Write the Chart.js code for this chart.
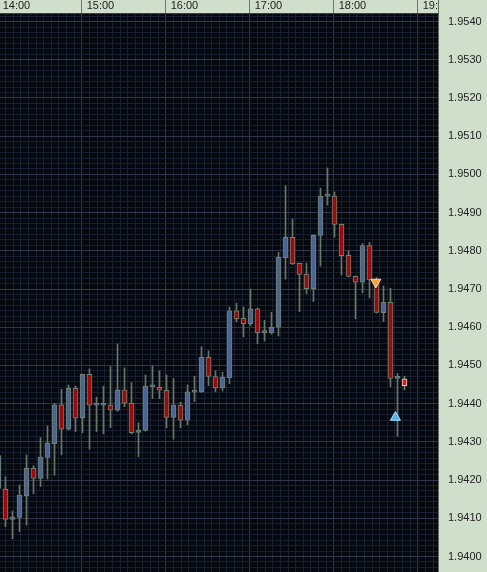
<!DOCTYPE html>
<html><head><meta charset="utf-8">
<script src="https://cdn.jsdelivr.net/npm/chart.js@4.4.0/dist/chart.umd.min.js"></script>
<style>
html,body{margin:0;padding:0;background:#cfdfcb;overflow:hidden;}
canvas{display:block;}
</style></head>
<body><canvas id="c" width="487" height="572"></canvas>
<script>
// 5-minute candles (first one partly hidden at the left edge)
const times = ['13:55','14:00','14:05','14:10','14:15','14:20','14:25','14:30','14:35','14:40','14:45','14:50','14:55',
'15:00','15:05','15:10','15:15','15:20','15:25','15:30','15:35','15:40','15:45','15:50','15:55',
'16:00','16:05','16:10','16:15','16:20','16:25','16:30','16:35','16:40','16:45','16:50','16:55',
'17:00','17:05','17:10','17:15','17:20','17:25','17:30','17:35','17:40','17:45','17:50','17:55',
'18:00','18:05','18:10','18:15','18:20','18:25','18:30','18:35','18:40','18:45'];
const opens = [1.94178,1.94176,1.94097,1.94102,1.94159,1.94231,1.94204,1.94259,1.94295,1.94397,1.94333,1.94440,1.94362,
1.94477,1.94396,1.94396,1.94396,1.94383,1.94436,1.94401,1.94325,1.94330,1.94444,1.94443,1.94435,
1.94364,1.94396,1.94357,1.94430,1.94431,1.94521,1.94471,1.94441,1.94468,1.94643,1.94623,1.94609,
1.94648,1.94586,1.94586,1.94600,1.94782,1.94835,1.94767,1.94739,1.94701,1.94840,1.94943,1.94943,
1.94869,1.94788,1.94733,1.94718,1.94814,1.94724,1.94638,1.94665,1.94466,1.94465];
const highs = [1.94266,1.94209,1.94119,1.94187,1.94266,1.94238,1.94311,1.94342,1.94401,1.94438,1.94449,1.94446,1.94477,
1.94491,1.94417,1.94446,1.94497,1.94556,1.94494,1.94455,1.94350,1.94475,1.94499,1.94486,1.94475,
1.94466,1.94404,1.94449,1.94472,1.94549,1.94538,1.94486,1.94482,1.94653,1.94663,1.94653,1.94700,
1.94650,1.94618,1.94639,1.94796,1.94970,1.94883,1.94768,1.94768,1.94842,1.94964,1.95017,1.94954,
1.94870,1.94800,1.94734,1.94819,1.94822,1.94731,1.94708,1.94702,1.94479,1.94472];
const lows = [1.94177,1.94078,1.94046,1.94065,1.94082,1.94164,1.94183,1.94203,1.94213,1.94266,1.94331,1.94327,1.94324,
1.94281,1.94327,1.94321,1.94337,1.94380,1.94392,1.94321,1.94261,1.94328,1.94413,1.94413,1.94337,
1.94307,1.94337,1.94345,1.94405,1.94429,1.94447,1.94431,1.94433,1.94452,1.94614,1.94575,1.94604,
1.94557,1.94564,1.94582,1.94577,1.94726,1.94764,1.94641,1.94688,1.94667,1.94760,1.94920,1.94836,
1.94737,1.94732,1.94622,1.94690,1.94677,1.94637,1.94615,1.94444,1.94315,1.94436];
const closes = [1.94264,1.94097,1.94103,1.94161,1.94231,1.94204,1.94260,1.94297,1.94397,1.94333,1.94440,1.94362,1.94477,
1.94396,1.94397,1.94397,1.94383,1.94436,1.94401,1.94324,1.94331,1.94446,1.94445,1.94435,1.94364,
1.94396,1.94357,1.94431,1.94431,1.94521,1.94471,1.94441,1.94469,1.94643,1.94622,1.94609,1.94648,
1.94586,1.94587,1.94600,1.94783,1.94835,1.94766,1.94738,1.94701,1.94841,1.94943,1.94944,1.94869,
1.94787,1.94733,1.94718,1.94814,1.94724,1.94639,1.94665,1.94466,1.94467,1.94447];
// signal arrows (candle position, price)
const sellSignalX = [53.9], sellSignalY = [1.94718];
const buySignalX = [56.7], buySignalY = [1.94364];
// axis labels
const hourLabels = ['14:00','15:00','16:00','17:00','18:00','19:00'];
const priceLabels = ['1.9400','1.9410','1.9420','1.9430','1.9440','1.9450','1.9460','1.9470','1.9480','1.9490','1.9500','1.9510','1.9520','1.9530','1.9540'];

const PLOT_BG = '#06080f';
const GRID_MINOR = '#18202f';
const GRID_MAJOR = '#35354c';
const UP_FILL = '#4a6494', DOWN_FILL = '#9c0a0c';
const BODY_EDGE = '#728272', WICK = '#687868';
const LAST_FILL = '#e8161c', LAST_EDGE = '#d4d8d4';

const n = times.length;
const last = n - 1;
const bodyData = times.map((t, i) => ({x: i, y: [opens[i], closes[i]]}));
const wickData = times.map((t, i) => ({x: i, y: [lows[i], highs[i]]}));
const bodyFill = times.map((t, i) => i === last ? LAST_FILL : (closes[i] >= opens[i] ? UP_FILL : DOWN_FILL));
const bodyEdge = times.map((t, i) => i === last ? LAST_EDGE : BODY_EDGE);

// hour boundaries sit between candles (index of 14:00 candle is 1)
const hourPos = hourLabels.map((h, k) => times.indexOf(h) >= 0 ? times.indexOf(h) - 0.55 : 1 + 12 * k - 0.55);
const xMin = 0.2143, xMax = xMin + 438 / 7;
const yMin = 1.939594, yMax = 1.954224;
const yMajorVals = priceLabels.map(Number);
const xMinorStep = 12 / 11;
const yMinorStep = 0.001 / 7;

function noPad(s) { s.paddingLeft = 0; s.paddingRight = 0; s.paddingTop = 0; s.paddingBottom = 0; }

const bgPlugin = {
  id: 'bg',
  beforeDraw(chart) {
    const {ctx, chartArea: a} = chart;
    ctx.save();
    ctx.fillStyle = PLOT_BG;
    ctx.fillRect(a.left, a.top, a.right - a.left, a.bottom - a.top);
    ctx.restore();
  },
  afterDraw(chart) {
    const {ctx, chartArea: a} = chart;
    ctx.save();
    ctx.fillStyle = '#cfdfcb';
    ctx.fillRect(a.right, 0, chart.width - a.right, a.top);
    ctx.fillStyle = '#5e6a5e';
    ctx.fillRect(a.right, 0, 1, a.top);
    ctx.restore();
  }
};

new Chart(document.getElementById('c'), {
  type: 'bar',
  data: {
    datasets: [
      {type: 'scatter', data: sellSignalX.map((x, i) => ({x, y: sellSignalY[i]})), pointStyle: 'triangle', rotation: 180,
       radius: 5.8, backgroundColor: '#f6a43c', borderColor: '#fcd9a4', borderWidth: 1, order: -1},
      {type: 'scatter', data: buySignalX.map((x, i) => ({x, y: buySignalY[i]})), pointStyle: 'triangle', rotation: 0,
       radius: 5.8, backgroundColor: '#56b4ea', borderColor: '#a6dcf6', borderWidth: 1, order: -1},
      {data: bodyData, backgroundColor: bodyFill, borderColor: bodyEdge, borderWidth: 1, borderSkipped: false,
       barThickness: 5, minBarLength: 2, grouped: false, order: 0},
      {data: wickData, backgroundColor: WICK, borderWidth: 0, barThickness: 1, grouped: false, order: 1}
    ]
  },
  options: {
    responsive: false,
    animation: false,
    devicePixelRatio: 1,
    layout: {padding: 0, autoPadding: false},
    plugins: {legend: {display: false}, tooltip: {enabled: false}},
    scales: {
      x: {
        type: 'linear', position: 'top', min: xMin, max: xMax, offset: false,
        afterBuildTicks(s) {
          const t = [];
          hourPos.forEach((p, k) => {
            t.push({value: p, major: true, label: hourLabels[k]});
            if (k < hourPos.length - 1) for (let j = 1; j < 11; j++) t.push({value: p + j * xMinorStep, major: false});
          });
          for (let j = 1; j < 3; j++) t.push({value: hourPos[hourPos.length - 1] + j * xMinorStep, major: false});
          s.ticks = t.filter(o => o.value >= xMin && o.value <= xMax).sort((a, b) => a.value - b.value);
        },
        afterFit(s) { s.height = 13; noPad(s); },
        grid: {
          color: c => (c.tick && c.tick.major) ? GRID_MAJOR : GRID_MINOR,
          tickColor: c => (c.tick && c.tick.major) ? '#6c786c' : 'rgba(0,0,0,0)',
          tickLength: 13, lineWidth: 1
        },
        border: {display: true, color: '#3c463c'},
        ticks: {
          autoSkip: false, maxRotation: 0, minRotation: 0, align: 'start', labelOffset: 1, padding: -13,
          color: '#222', font: {family: 'Liberation Sans', size: 11},
          callback: function(v, i, ticks) { return ticks[i].major ? ticks[i].label : ''; }
        }
      },
      y: {
        type: 'linear', position: 'right', min: yMin, max: yMax,
        afterBuildTicks(s) {
          const t = [];
          for (let k = 0; k < yMajorVals.length; k++) {
            t.push({value: yMajorVals[k], major: true, label: priceLabels[k]});
            for (let j = 1; j < 7; j++) t.push({value: yMajorVals[k] + j * yMinorStep, major: false});
          }
          for (let j = 1; j < 4; j++) t.push({value: yMajorVals[0] - j * yMinorStep, major: false});
          s.ticks = t.filter(o => o.value >= yMin && o.value <= yMax).sort((a, b) => a.value - b.value);
        },
        afterFit(s) { s.width = 49; noPad(s); },
        grid: {
          color: c => (c.tick && c.tick.major) ? GRID_MAJOR : GRID_MINOR,
          drawTicks: false, lineWidth: 1
        },
        border: {display: true, color: '#5e6a5e'},
        ticks: {
          autoSkip: false, padding: 10, color: '#222', font: {family: 'Liberation Sans', size: 11},
          callback: function(v, i, ticks) { return ticks[i].major ? ticks[i].label : ''; }
        }
      }
    }
  },
  plugins: [bgPlugin]
});
</script>
</body></html>
